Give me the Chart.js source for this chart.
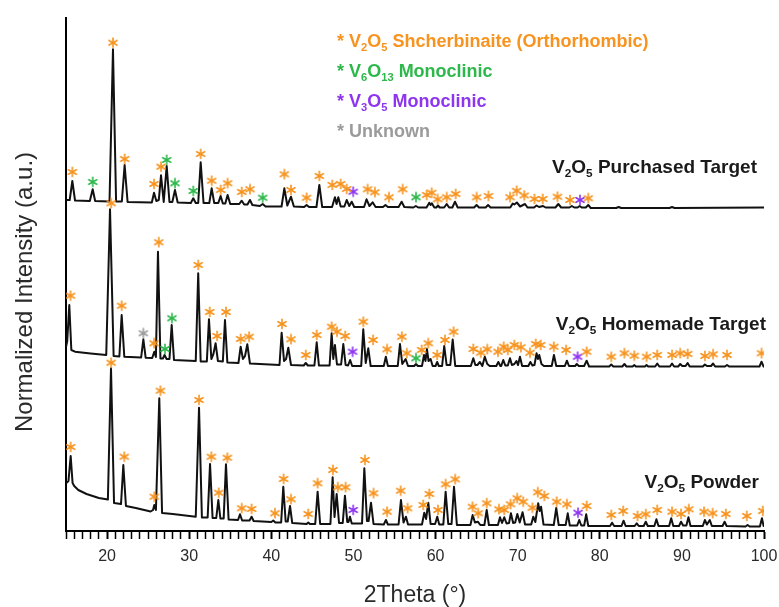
<!DOCTYPE html>
<html>
<head>
<meta charset="utf-8">
<script src="https://cdn.jsdelivr.net/npm/chart.js@4.4.1/dist/chart.umd.min.js"></script>
<style>
  html, body { margin: 0; padding: 0; background: #fff; }
  canvas { display: block; }
</style>
</head>
<body>
<canvas id="xrdChart" width="779" height="607"></canvas>
<script>
// 2theta (deg) vs stacked, normalized intensity (a.u.)
const purchased = [
  [15.0, 331], [15.45, 331], [15.77, 350], [16.1, 330.5],
  [17.9, 330], [18.25, 341.7], [18.55, 330],
  [20.3, 329.5], [20.72, 481.7], [21.1, 329.5],
  [21.8, 329.5], [22.14, 366], [22.5, 329],
  [25.45, 328.5], [25.72, 338.3], [26.0, 330], [26.3, 331], [26.57, 355.7], [26.9, 329],
  [27.26, 365], [27.6, 329], [27.95, 329], [28.27, 341], [28.6, 328.5],
  [30.2, 328], [30.5, 332.7], [30.8, 328], [31.1, 328], [31.4, 368.7], [31.75, 328],
  [32.45, 328], [32.74, 342.7], [33.05, 328], [33.55, 328], [33.83, 335], [34.1, 327.5],
  [34.4, 327.5], [34.68, 336], [35.0, 327],
  [36.1, 327], [36.4, 330.3], [36.7, 326.5], [37.1, 326.5], [37.4, 331], [37.7, 326],
  [38.6, 325], [38.95, 327], [39.3, 324.5],
  [41.25, 324.5], [41.59, 342.7], [41.95, 325.5], [42.4, 334.3], [42.75, 324.5],
  [44.0, 324], [44.3, 326], [44.6, 324],
  [45.5, 324], [45.85, 346], [46.2, 324],
  [47.4, 324], [47.75, 333.7], [47.95, 327], [48.16, 333.7], [48.45, 324.5],
  [48.9, 324.5], [49.18, 331], [49.5, 325], [49.79, 329.3], [50.1, 324],
  [51.3, 324], [51.6, 331.7], [51.95, 325], [52.34, 328.7], [52.7, 324],
  [53.6, 324], [53.9, 326], [54.2, 324],
  [55.5, 324], [55.87, 329.3], [56.2, 324],
  [57.3, 323.5], [57.6, 325], [57.9, 323.5],
  [58.9, 323.5], [59.24, 328.3], [59.4, 326], [59.55, 327.7], [59.85, 323.5],
  [60.1, 323.5], [60.3, 325.5], [60.5, 323.5],
  [61.05, 323.5], [61.36, 327], [61.65, 323.5], [62.05, 323.5], [62.37, 329.3], [62.7, 323.5],
  [64.7, 323.5], [65.0, 326], [65.3, 323.5], [66.1, 323.5], [66.4, 326], [66.7, 323.5],
  [69.1, 323.5], [69.4, 327.5], [69.6, 326.5], [69.9, 328.5], [70.3, 324.5], [70.9, 327], [71.2, 323.5],
  [72.0, 323.5], [72.3, 325.5], [72.6, 324], [73.1, 325], [73.4, 323.5],
  [74.6, 323.5], [74.95, 327], [75.3, 323.5],
  [76.3, 323.5], [76.6, 325], [76.9, 323.5], [77.3, 323.5], [77.55, 325], [77.8, 323.5],
  [78.3, 323.5], [78.6, 326], [78.9, 323],
  [82.0, 323], [82.3, 324], [82.6, 323], [88.5, 323], [88.8, 324], [89.1, 323], [100, 323.5]
];

const homemade = [
  [15.0, 184], [15.15, 190], [15.4, 226], [15.65, 181], [16.1, 179.3],
  [18.0, 177.5], [19.9, 176], [20.36, 321.7], [20.8, 175],
  [21.5, 174.5], [21.78, 216], [22.1, 174.3],
  [24.15, 173.5], [24.42, 191.7], [24.7, 173.3],
  [25.5, 173], [25.75, 179.3], [25.95, 174], [26.2, 279.3], [26.5, 172.5],
  [26.8, 172.5], [27.0, 176], [27.25, 172], [27.6, 172], [27.87, 206], [28.15, 171],
  [30.8, 170], [31.1, 257.7], [31.4, 169.5], [32.15, 169.5], [32.41, 211.7], [32.7, 172],
  [32.95, 177], [33.22, 187.7], [33.5, 170], [34.1, 169.5], [34.36, 211], [34.65, 168.5],
  [36.0, 168], [36.27, 184.3], [36.55, 172], [36.8, 175], [37.08, 186.7], [37.4, 167.5],
  [41.0, 166], [41.26, 198.3], [41.55, 170], [41.8, 172], [42.07, 183.3], [42.4, 166],
  [43.95, 165.5], [44.2, 168], [44.45, 165.5],
  [45.25, 165.5], [45.53, 188.7], [45.8, 165.5],
  [47.1, 165.5], [47.35, 197.7], [47.55, 172], [47.75, 186], [48.0, 166.5],
  [48.5, 166.5], [48.77, 187], [49.05, 166],
  [49.35, 165.5], [49.6, 171], [49.85, 165],
  [50.95, 165], [51.2, 201.7], [51.5, 168], [51.81, 182.7], [52.1, 165],
  [53.7, 165], [53.95, 174.3], [54.2, 165],
  [55.4, 165], [55.67, 187], [55.95, 167], [56.36, 172], [56.65, 165],
  [57.4, 165], [57.62, 167], [57.85, 165],
  [58.35, 165], [58.6, 176], [58.78, 170], [58.95, 182], [59.15, 170], [59.4, 172], [59.65, 165],
  [60.0, 165], [60.2, 169], [60.4, 165],
  [60.8, 165], [61.06, 185], [61.35, 166], [61.8, 166], [62.09, 191.5], [62.4, 165],
  [64.3, 165], [64.6, 172.7], [64.85, 166], [65.1, 166], [65.4, 169], [65.7, 165],
  [66.0, 174.3], [66.3, 167], [66.6, 165],
  [67.4, 165], [67.65, 169], [67.9, 165], [68.0, 165], [68.25, 171], [68.5, 165.5],
  [68.8, 165.5], [69.07, 172.7], [69.3, 166], [69.6, 167], [69.85, 170], [70.05, 166],
  [70.28, 174.3], [70.55, 165],
  [71.3, 165], [71.55, 169], [71.8, 165.5], [72.05, 166], [72.3, 177.7], [72.47, 172],
  [72.63, 176], [72.9, 167], [73.2, 165],
  [74.15, 165], [74.42, 176], [74.7, 165],
  [75.75, 165], [76.0, 170.3], [76.25, 165],
  [77.0, 165], [77.2, 167], [77.45, 165], [78.1, 165], [78.4, 170.3], [78.7, 164.5],
  [81.15, 164.5], [81.4, 166.5], [81.65, 164.5], [82.75, 164.5], [83.0, 167], [83.25, 164.5],
  [84.0, 164.5], [84.2, 166], [84.4, 164.5], [85.5, 164.5], [85.7, 166], [85.9, 164.5],
  [86.75, 164.5], [87.0, 167.5], [87.25, 164.5], [88.55, 164.5], [88.8, 167.5], [89.05, 164.5],
  [89.55, 164.5], [89.8, 167], [90.05, 165], [90.45, 165], [90.7, 168], [90.95, 164.5],
  [92.55, 164.5], [92.8, 166.5], [93.05, 165], [93.55, 165], [93.8, 167.5], [94.05, 164.5],
  [95.25, 164.5], [95.5, 166], [95.75, 164.5], [99.45, 164.5], [99.7, 169.3], [99.95, 164.5],
  [100, 164.5]
];

const powder = [
  [15.0, 47.7], [15.3, 50], [15.57, 75], [15.8, 48], [16.0, 45], [16.5, 41], [17.5, 37],
  [19.0, 33], [20.1, 31.5], [20.48, 162.7], [20.85, 28],
  [21.7, 27], [21.98, 66], [22.3, 25], [23.5, 23], [25.3, 19.5], [25.6, 21], [25.75, 26],
  [25.95, 21], [26.36, 132.7], [26.7, 18],
  [28.0, 17], [30.8, 14.3], [31.2, 123.3], [31.55, 13.5], [32.25, 13.5], [32.54, 67],
  [32.85, 13], [33.3, 13], [33.55, 31], [33.8, 12.5], [34.2, 12.5], [34.48, 66.7], [34.8, 11.5],
  [35.95, 11], [36.19, 16.7], [36.45, 10.5], [37.35, 10.5], [37.6, 14.3], [37.85, 10],
  [40.0, 9], [40.24, 10.5], [40.5, 8.5],
  [41.2, 8.5], [41.46, 44.3], [41.75, 9.5], [42.0, 9.5], [42.28, 25], [42.55, 8],
  [44.3, 7], [44.5, 8.5], [44.7, 7],
  [45.35, 7], [45.64, 39.3], [45.95, 7],
  [47.2, 7], [47.47, 53.7], [47.7, 14], [47.96, 37], [48.25, 8], [48.7, 8], [48.97, 35.3],
  [49.25, 9], [49.4, 9], [49.58, 14.3], [49.8, 7.5],
  [51.05, 7.5], [51.33, 62.7], [51.65, 10], [51.85, 10], [52.14, 28.3], [52.45, 7],
  [53.7, 6.5], [53.96, 11], [54.2, 6.5],
  [55.5, 6.5], [55.79, 31], [56.1, 8.5], [56.4, 14.3], [56.65, 6.5],
  [58.35, 6.5], [58.63, 18.3], [58.85, 12], [59.12, 28.3], [59.4, 7], [59.95, 7], [60.21, 14.3], [60.45, 6.5],
  [60.95, 6.5], [61.23, 39.3], [61.55, 7], [61.95, 7], [62.25, 44.3], [62.6, 6],
  [64.25, 6], [64.52, 16], [64.8, 8.5], [65.15, 9.3], [65.45, 6],
  [65.95, 6], [66.23, 21], [66.5, 6],
  [67.6, 6], [67.85, 13.7], [68.1, 8], [68.37, 13.7], [68.65, 7.5], [68.95, 8], [69.18, 17.7],
  [69.45, 8], [69.7, 8.5], [69.96, 17], [70.25, 8.5], [70.6, 18.7], [70.9, 6.5],
  [71.65, 6.5], [71.9, 14.3], [72.15, 9], [72.5, 27.7], [72.68, 20], [72.85, 24.3], [73.15, 6.5],
  [74.4, 6], [74.7, 23], [75.0, 6], [75.85, 6], [76.1, 17.7], [76.35, 5.5],
  [77.25, 5.5], [77.5, 11], [77.75, 5.5], [78.1, 5.5], [78.35, 16.7], [78.6, 5],
  [81.25, 5], [81.5, 8.3], [81.75, 5], [82.65, 5], [82.9, 10.3], [83.15, 5],
  [84.25, 5], [84.5, 7.7], [84.75, 5], [85.35, 5], [85.6, 9.3], [85.85, 5],
  [86.65, 5], [86.9, 11.7], [87.15, 5], [88.45, 5], [88.7, 12.7], [88.95, 5],
  [89.65, 5], [89.9, 9.3], [90.15, 5.5], [90.55, 5.5], [90.8, 13.7], [91.05, 5],
  [92.55, 5], [92.8, 11], [93.05, 6.5], [93.4, 11], [93.65, 5],
  [94.95, 5], [95.2, 9.3], [95.45, 5], [97.75, 4.5], [98.0, 6], [98.25, 4.5],
  [99.5, 4.5], [99.75, 12.7], [99.95, 5], [100, 5]
];

// phase markers (2theta, height of the asterisk) per sample
const purchasedV2O5 = [
  [15.77, 359], [20.72, 488.3], [22.14, 372], [25.72, 347], [26.57, 364.3], [31.4, 377],
  [32.74, 350.3], [33.83, 341], [34.68, 347.7], [36.4, 339], [37.4, 341.7], [41.59, 356.7],
  [42.4, 341], [44.3, 333.3], [45.85, 355], [47.43, 346], [48.45, 347], [49.18, 342],
  [51.73, 341.7], [52.62, 338.7], [54.33, 333.7], [56.0, 341.7], [58.92, 336], [59.53, 338.3],
  [60.26, 331.7], [61.36, 333.7], [62.45, 337], [65.01, 333.7], [66.45, 335], [69.07, 333.7],
  [69.88, 340.2], [70.81, 335.5], [72.05, 332], [73.05, 332], [74.85, 334.3], [76.37, 331],
  [78.6, 332.7]
];
const purchasedV6O13 = [[18.25, 349], [27.26, 371], [28.27, 347.7], [30.5, 340], [38.95, 333.3], [57.62, 333.7]];
const purchasedV3O5 = [[49.98, 339.3], [77.59, 331]];

const homemadeV2O5 = [
  [15.55, 235.3], [20.5, 327.7], [21.78, 225.3], [25.72, 187.7], [26.3, 288.7], [31.1, 266],
  [32.5, 219], [33.4, 195], [34.48, 219], [36.27, 192], [37.3, 194.3], [41.3, 207],
  [42.4, 191.7], [44.2, 176], [45.53, 196], [47.35, 204.3], [48.0, 199.3], [49.0, 195],
  [51.2, 209.3], [52.4, 191], [54.1, 181.7], [55.9, 194.3], [56.5, 177.7], [58.31, 181],
  [59.12, 187.7], [60.2, 176], [61.15, 191], [62.2, 199.3], [64.6, 182], [65.5, 178.3],
  [66.3, 181.7], [67.6, 179.3], [68.3, 184.3], [68.8, 181], [69.6, 186], [70.4, 183.7],
  [71.5, 178.3], [72.2, 187], [72.8, 186], [74.4, 184.3], [75.9, 181], [78.4, 179.3],
  [81.4, 174.3], [83.0, 177.7], [84.2, 175.3], [85.7, 174.3], [87.0, 176], [88.8, 176],
  [89.8, 177.7], [90.7, 177], [92.8, 175], [93.8, 176.7], [95.5, 176], [99.7, 177.7]
];
const homemadeV6O13 = [[27.05, 182], [27.9, 212.7], [57.62, 172.7]];
const homemadeV3O5 = [[49.9, 179.3], [77.3, 174.3]];
const homemadeUnknown = [[24.42, 197.7]];

const powderV2O5 = [
  [15.57, 84], [20.5, 168.3], [22.1, 74.3], [25.75, 34.3], [26.5, 140.3], [31.2, 131],
  [32.7, 74.3], [33.6, 38.3], [34.65, 73.3], [36.4, 22.7], [37.6, 22], [40.45, 17.7],
  [41.5, 52], [42.4, 31.7], [44.5, 17], [45.64, 47.7], [47.5, 61], [48.1, 43.7],
  [49.05, 43.7], [51.4, 71], [52.45, 37.7], [54.1, 19.3], [55.75, 40.3], [56.6, 22.7],
  [58.5, 26], [59.25, 37], [60.3, 21], [61.23, 46.7], [62.4, 51.7], [64.5, 24.3],
  [65.2, 17.7], [66.23, 27.7], [67.72, 21.7], [68.37, 21], [69.13, 26.7], [69.95, 32.7],
  [70.68, 29.3], [71.8, 23.3], [72.45, 38.7], [73.25, 35], [74.75, 29.3], [76.0, 26.7],
  [78.4, 25], [81.4, 16], [82.85, 20], [84.6, 15], [85.6, 16.7], [87.0, 21],
  [88.8, 19.3], [89.9, 17], [90.85, 21.7], [92.7, 19.3], [93.75, 17.7], [95.35, 17],
  [97.9, 15], [99.85, 20]
];
const powderV3O5 = [[49.98, 21], [77.35, 18.3]];

const sampleNames = ['V_2O_5 Purchased Target', 'V_2O_5 Homemade Target', 'V_2O_5 Powder'];
const phaseNames = ['* V_2O_5 Shcherbinaite (Orthorhombic)', '* V_6O_13 Monoclinic', '* V_3O_5 Monoclinic', '* Unknown'];
const phaseColors = ['#F7931E', '#2DB84B', '#8E35EF', '#9B9B9B'];

const FONT = "'Liberation Sans', Arial, sans-serif";

// six-armed asterisk used as the point style
function makeAsterisk(color) {
  const c = document.createElement('canvas');
  c.width = 12;
  c.height = 12;
  const g = c.getContext('2d');
  g.strokeStyle = color;
  g.lineWidth = 1.6;
  g.lineCap = 'round';
  g.translate(6, 6);
  for (let i = 0; i < 3; i++) {
    const a = Math.PI / 2 + i * Math.PI / 3;
    g.beginPath();
    g.moveTo(Math.cos(a) * 4.6, Math.sin(a) * 4.6);
    g.lineTo(-Math.cos(a) * 4.6, -Math.sin(a) * 4.6);
    g.stroke();
  }
  return c;
}

// text with "_n" written as a subscript
function drawRich(ctx, text, x, y, size, color, align) {
  const parts = text.split(/_(\d+)/);
  const subSize = size * 0.62;
  let width = 0;
  parts.forEach((p, i) => {
    ctx.font = 'bold ' + (i % 2 ? subSize : size) + 'px ' + FONT;
    width += ctx.measureText(p).width;
  });
  let cx = align === 'right' ? x - width : x;
  ctx.fillStyle = color;
  ctx.textAlign = 'left';
  ctx.textBaseline = 'alphabetic';
  parts.forEach((p, i) => {
    const sub = i % 2 === 1;
    ctx.font = 'bold ' + (sub ? subSize : size) + 'px ' + FONT;
    ctx.fillText(p, cx, sub ? y + size * 0.2 : y);
    cx += ctx.measureText(p).width;
  });
}

const annotations = {
  id: 'annotations',
  afterDraw(chart) {
    const {ctx, chartArea} = chart;
    ctx.save();

    // y axis title
    ctx.save();
    ctx.translate(32, 292);
    ctx.rotate(-Math.PI / 2);
    ctx.font = '24px ' + FONT;
    ctx.fillStyle = '#2a2a2a';
    ctx.textAlign = 'center';
    ctx.textBaseline = 'alphabetic';
    ctx.fillText('Normalized Intensity (a.u.)', 0, 0);
    ctx.restore();

    // phase key
    phaseNames.forEach((name, i) => {
      drawRich(ctx, name, 337, 47 + i * 30, 18, phaseColors[i], 'left');
    });

    // sample names
    const right = chartArea.right;
    drawRich(ctx, sampleNames[0], right - 7, 173, 19, '#1a1a1a', 'right');
    drawRich(ctx, sampleNames[1], right + 2, 330, 19, '#1a1a1a', 'right');
    drawRich(ctx, sampleNames[2], right - 5, 488, 19, '#1a1a1a', 'right');
    ctx.restore();
  }
};

function traceSet(data) {
  return {
    type: 'scatter',
    data: data,
    showLine: true,
    borderColor: '#111',
    borderWidth: 2,
    borderJoinStyle: 'round',
    pointRadius: 0,
    tension: 0
  };
}

function markerSet(data, color) {
  return {
    type: 'scatter',
    data: data,
    pointStyle: makeAsterisk(color),
    pointRadius: 5,
    showLine: false
  };
}

const ctx = document.getElementById('xrdChart').getContext('2d');

new Chart(ctx, {
  type: 'scatter',
  data: {
    datasets: [
      markerSet([...purchasedV2O5, ...homemadeV2O5, ...powderV2O5], phaseColors[0]),
      markerSet([...purchasedV6O13, ...homemadeV6O13], phaseColors[1]),
      markerSet([...purchasedV3O5, ...homemadeV3O5, ...powderV3O5], phaseColors[2]),
      markerSet(homemadeUnknown, phaseColors[3]),
      traceSet(purchased),
      traceSet(homemade),
      traceSet(powder)
    ]
  },
  options: {
    responsive: false,
    animation: false,
    layout: { padding: { top: 18, right: 15, bottom: 0, left: 0 } },
    plugins: {
      legend: { display: false },
      tooltip: { enabled: false }
    },
    scales: {
      x: {
        type: 'linear',
        min: 15,
        max: 100,
        ticks: {
          stepSize: 1,
          autoSkip: false,
          maxRotation: 0,
          padding: 8,
          color: '#2a2a2a',
          font: { family: FONT, size: 16 },
          callback: (v) => (v % 10 === 0 ? v : '')
        },
        grid: {
          drawOnChartArea: false,
          tickLength: 8,
          tickColor: '#000',
          tickWidth: (c) => (c.tick && c.tick.value % 10 === 0 ? 2 : 1.5)
        },
        border: { color: '#000', width: 2 },
        title: {
          display: true,
          text: '2Theta (°)',
          color: '#2a2a2a',
          font: { family: FONT, size: 23, lineHeight: 1 },
          padding: { top: 0, bottom: 0 }
        },
        afterFit: (scale) => {
          scale.height = 76;
          // the "100" label may hang into the right margin
          scale.paddingLeft = 0;
          scale.paddingRight = 0;
        }
      },
      y: {
        type: 'linear',
        min: 0,
        max: 513,
        ticks: { display: false },
        grid: { display: false },
        border: { color: '#000', width: 2 },
        afterFit: (scale) => { scale.width = 66; }
      }
    }
  },
  plugins: [annotations]
});
</script>
</body>
</html>
